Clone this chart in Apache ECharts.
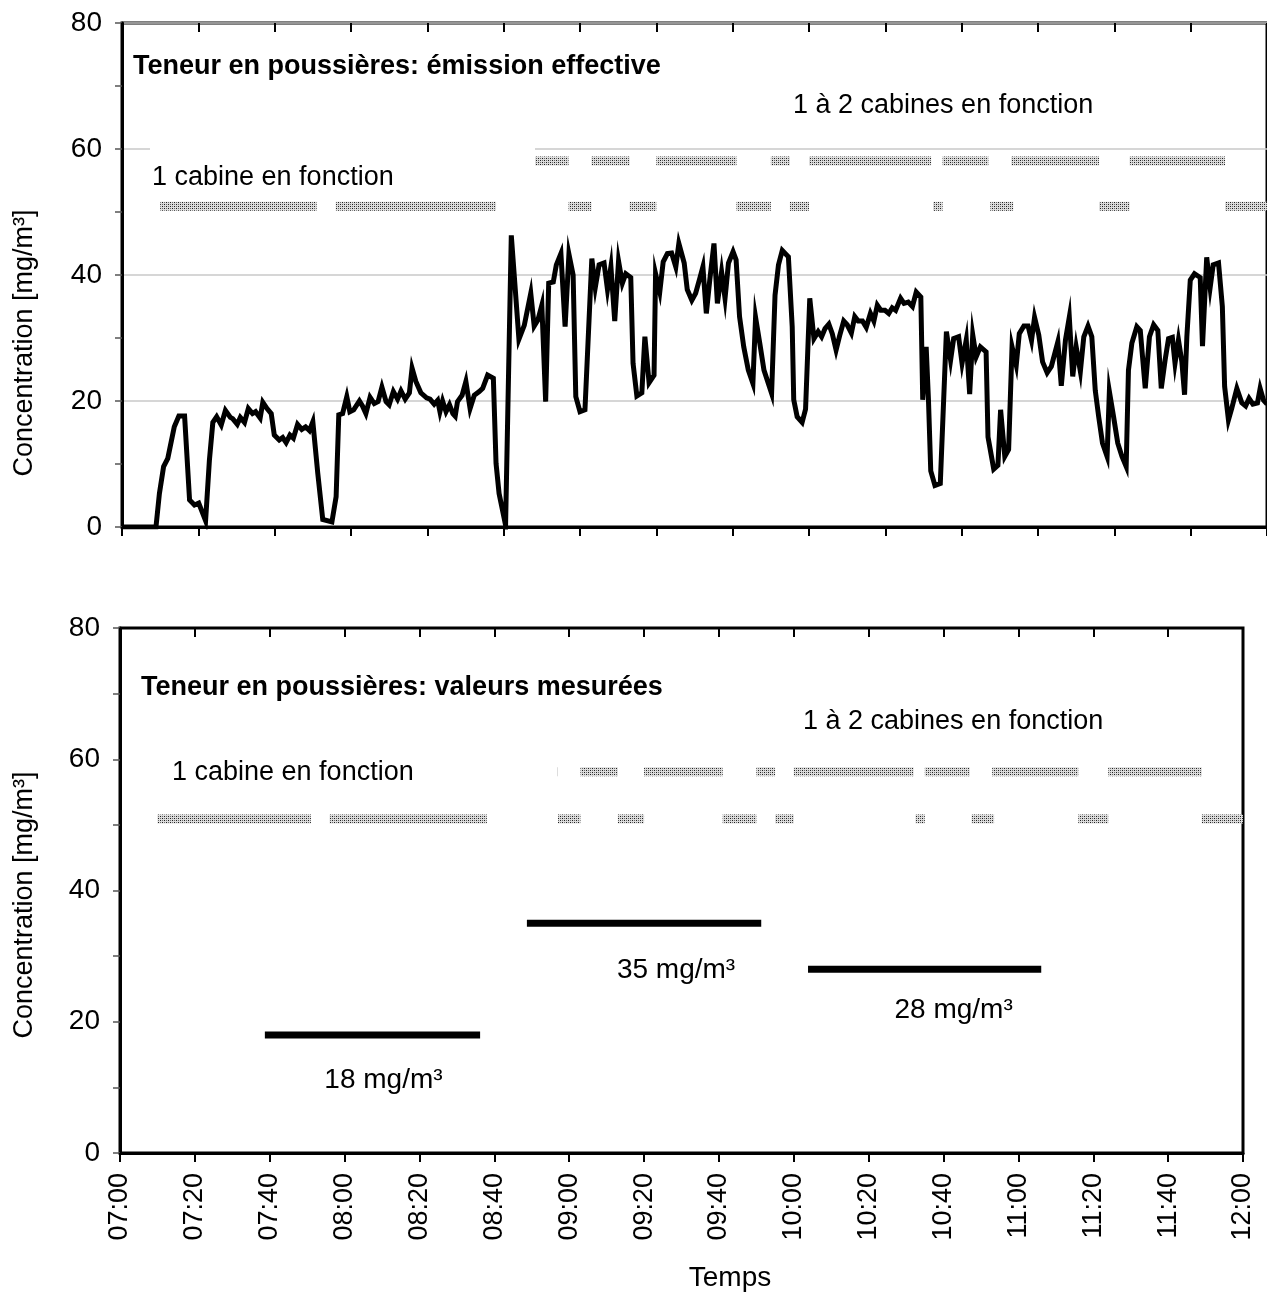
<!DOCTYPE html>
<html>
<head>
<meta charset="utf-8">
<title>Teneur en poussières</title>
<script src="https://cdn.jsdelivr.net/npm/echarts@6/dist/echarts.min.js"></script>
<style>
  html, body { margin: 0; padding: 0; background: #fff; }
  #chart { width: 1267px; height: 1296px; }
</style>
</head>
<body>
<div id="chart"></div>
<script>
// Minutes after 07:00 and dust concentration (mg/m³) – effective emission
const emissionMinutes = [
  0, 8.9, 9.8, 10.9, 12.0, 13.7, 14.9, 16.4, 17.7, 19.0, 20.1, 21.9, 22.9, 23.8, 24.8, 26.0,
  27.1, 28.4, 29.0, 30.2, 31.0, 32.1, 33.1, 34.2, 35.0, 36.2, 36.9, 38.0, 39.1, 39.9, 41.2, 42.1,
  43.0, 44.0, 44.9, 46.0, 47.1, 48.1, 49.1, 50.0, 51.3, 52.6, 55.0, 56.1, 56.8, 57.8, 58.9, 59.7,
  60.7, 62.2, 63.0, 63.9, 65.0, 66.1, 67.1, 68.1, 69.2, 70.0, 71.1, 72.2, 73.1, 74.2, 75.3, 76.0,
  77.0, 78.3, 79.8, 80.7, 81.8, 82.7, 83.3, 84.0, 84.9, 85.8, 86.7, 87.3, 87.9, 89.1, 90.1, 91.2,
  92.3, 93.6, 94.5, 95.8, 97.3, 98.0, 98.8, 100.5, 102.0, 104.0, 105.4, 107.1, 108.0, 109.0, 110.0, 111.0,
  111.8, 113.0, 113.8, 115.0, 116.1, 117.1, 118.2, 118.9, 120.0, 121.3, 123.1, 124.0, 125.0, 126.3, 127.2, 128.1,
  129.1, 130.1, 131.1, 132.0, 133.3, 133.9, 134.9, 136.2, 137.0, 138.1, 139.4, 139.8, 140.9, 141.8, 142.9, 144.0,
  145.1, 145.9, 147.3, 148.1, 149.3, 150.3, 151.4, 152.2, 153.1, 154.0, 155.1, 156.0, 157.1, 158.0, 158.9, 160.1,
  160.9, 161.8, 162.9, 164.1, 165.3, 166.0, 167.1, 168.2, 170.2, 171.1, 172.0, 173.0, 174.6, 175.6, 176.0, 176.9,
  178.2, 179.1, 180.2, 181.3, 182.4, 183.3, 184.2, 185.2, 186.1, 187.1, 188.0, 189.1, 190.0, 191.1, 192.0, 192.9,
  194.0, 195.0, 196.1, 197.0, 197.9, 198.8, 199.9, 200.9, 201.8, 202.7, 204.0, 204.9, 206.0, 207.1, 208.1, 209.3,
  209.8, 210.7, 211.3, 211.9, 213.0, 214.4, 216.0, 217.1, 217.9, 219.2, 220.1, 221.2, 222.1, 222.9, 223.8, 224.9,
  226.4, 226.9, 228.4, 229.5, 230.2, 231.3, 232.3, 233.2, 234.3, 235.1, 236.3, 237.4, 238.3, 239.1, 240.2, 241.2,
  242.4, 243.5, 245.2, 246.1, 247.2, 248.2, 249.1, 250.0, 251.1, 252.0, 253.1, 254.1, 255.0, 255.9, 256.9, 258.1,
  258.7, 259.8, 260.9, 262.0, 263.1, 263.7, 264.6, 265.9, 266.8, 268.1, 269.2, 270.3, 271.4, 272.3, 273.3, 274.2,
  275.2, 275.9, 276.8, 277.7, 278.4, 279.0, 279.9, 281.0, 282.5, 283.1, 284.2, 285.1, 285.9, 287.3, 288.3, 288.9,
  289.9, 290.8, 292.1, 293.4, 294.4, 295.3, 296.3, 297.5, 298.2, 299.1, 300
];
const emissionValues = [
  0, 0, 5.3, 9.6, 10.9, 15.9, 17.6, 17.6, 4.3, 3.5, 3.8, 1.0, 10.6, 16.6, 17.5, 16.2,
  18.5, 17.4, 17.2, 16.3, 17.4, 16.6, 18.8, 18.0, 18.3, 17.3, 19.8, 18.8, 18.0, 14.6, 13.8, 14.2,
  13.4, 14.6, 14.1, 16.3, 15.5, 15.9, 15.3, 16.7, 8.5, 1.2, 0.8, 4.8, 17.8, 18.0, 20.7, 18.3,
  18.6, 20.0, 19.2, 18.0, 20.6, 19.6, 19.9, 22.2, 19.9, 19.4, 21.5, 20.3, 21.6, 20.3, 21.3, 25.2,
  23.1, 21.3, 20.5, 20.3, 19.5, 20.1, 18.3, 20.0, 18.3, 19.4, 18.0, 17.6, 19.9, 20.9, 23.1, 18.8,
  20.9, 21.5, 22.0, 24.1, 23.6, 10.1, 5.3, 0.3, 46.3, 29.8, 32.0, 37.1, 31.9, 32.9, 35.2, 19.9,
  38.7, 38.9, 41.6, 43.4, 31.8, 43.3, 40.0, 20.7, 18.3, 18.6, 42.6, 38.0, 41.6, 41.9, 37.7, 41.3,
  32.7, 42.2, 38.7, 40.2, 39.6, 26.0, 20.8, 21.3, 30.2, 22.9, 24.1, 40.2, 37.3, 42.1, 43.4, 43.5,
  41.3, 45.0, 41.9, 37.7, 36.0, 37.1, 39.5, 41.3, 33.9, 39.2, 45.0, 35.5, 40.5, 36.3, 41.9, 43.7,
  42.4, 33.4, 28.6, 24.9, 22.8, 33.3, 29.2, 24.9, 21.2, 36.8, 41.6, 43.9, 42.9, 31.8, 20.2, 17.5,
  16.6, 18.7, 36.3, 29.9, 31.0, 30.2, 31.5, 32.2, 30.7, 28.1, 30.3, 32.7, 32.1, 30.8, 33.4, 32.7,
  32.7, 31.7, 33.9, 32.7, 35.2, 34.4, 34.4, 33.9, 34.8, 34.4, 36.3, 35.5, 35.7, 35.0, 37.3, 36.5,
  20.2, 28.6, 20.2, 8.9, 6.6, 6.9, 31.0, 26.5, 29.9, 30.2, 26.0, 29.7, 21.1, 30.5, 27.0, 28.6,
  27.8, 14.3, 9.2, 9.8, 18.6, 11.2, 12.3, 28.6, 25.7, 30.7, 31.9, 31.9, 29.6, 33.3, 30.5, 26.2,
  24.5, 25.5, 29.4, 22.4, 29.7, 33.3, 23.9, 28.6, 24.7, 30.2, 31.9, 30.2, 21.7, 17.5, 13.3, 11.2,
  21.5, 17.5, 13.3, 11.2, 9.6, 24.9, 29.2, 31.8, 31.2, 22.0, 30.2, 32.1, 31.2, 22.0, 26.5, 29.9,
  30.1, 26.0, 29.7, 26.2, 21.0, 30.2, 39.2, 40.2, 39.6, 28.7, 42.8, 38.0, 41.6, 41.9, 35.0, 22.3,
  17.0, 18.9, 22.0, 19.7, 19.2, 20.4, 19.5, 19.7, 22.0, 20.1, 19.5
];

// Operating periods of the booths, [start, end] in minutes after 07:00
const upperBandPeriods = [
  [108, 117], [123, 133], [140, 161], [170, 175], [180, 212], [215, 227], [233, 256], [264, 289]
];
const lowerBandPeriods = [
  [10, 51], [56, 98], [117, 123], [133, 140], [161, 170], [175, 180], [212.5, 215],
  [227.5, 233.5], [256, 264], [289, 300]
];
const bandLevels = [58.1, 50.9];

// Measured (sampled) averages: sampling windows and results in mg/m³
const measuredStart = [38.7, 108.7, 183.8];
const measuredEnd = [96.2, 171.3, 246.1];
const measuredValues = [18, 35, 28];

const FONT = '"Liberation Sans", Arial, Helvetica, sans-serif';

function clock(m) {
  const h = 7 + Math.floor(m / 60);
  const mm = Math.round(m % 60);
  return String(h).padStart(2, '0') + ':' + String(mm).padStart(2, '0');
}

// stippled fill for the operating-period bands
function makeStipple() {
  const c = document.createElement('canvas');
  c.width = 4; c.height = 4;
  const g = c.getContext('2d');
  g.fillStyle = '#dcdcdc';
  g.fillRect(0, 0, 4, 4);
  g.fillStyle = '#1e1e1e';
  g.fillRect(0, 0, 1, 1);
  g.fillRect(2, 2, 1, 1);
  g.fillStyle = '#6a6a6a';
  g.fillRect(2, 0, 1, 1);
  g.fillRect(0, 2, 1, 1);
  return { image: c, repeat: 'repeat' };
}
const stipple = makeStipple();

const bandData = [];
upperBandPeriods.forEach(p => bandData.push([p[0], p[1], bandLevels[0]]));
lowerBandPeriods.forEach(p => bandData.push([p[0], p[1], bandLevels[1]]));

function renderBand(params, api) {
  const s = api.coord([api.value(0), api.value(2)]);
  const e = api.coord([api.value(1), api.value(2)]);
  return {
    type: 'rect',
    shape: { x: s[0], y: s[1] - 4.5, width: e[0] - s[0], height: 9 },
    style: { fill: stipple }
  };
}

const labelShift = [[11, 45], [32, 47], [29, 41]];
const measuredData = measuredValues.map((v, i) => [measuredStart[i], measuredEnd[i], v, i]);

function renderMeasured(params, api) {
  const v = api.value(2);
  const i = api.value(3);
  const s = api.coord([api.value(0), v]);
  const e = api.coord([api.value(1), v]);
  return {
    type: 'group',
    children: [
      {
        type: 'line',
        shape: { x1: s[0], y1: s[1], x2: e[0], y2: e[1] },
        style: { stroke: '#000', lineWidth: 7, lineCap: 'butt' }
      },
      {
        type: 'text',
        style: {
          text: v + ' mg/m³',
          x: (s[0] + e[0]) / 2 + labelShift[i][0],
          y: s[1] + labelShift[i][1],
          align: 'center',
          verticalAlign: 'middle',
          fontSize: 28,
          fontFamily: FONT,
          fill: '#000'
        }
      }
    ]
  };
}

function xAxes(grid, withLabels) {
  const base = {
    type: 'value', gridIndex: grid, min: 0, max: 300, interval: 20,
    splitLine: { show: false }
  };
  return [
    Object.assign({}, base, {
      axisLine: { show: true, lineStyle: { color: '#000', width: 3 } },
      axisTick: { show: true, length: 9, lineStyle: { color: '#000', width: 2 } },
      axisLabel: withLabels ? {
        show: true, rotate: 90, margin: 20, fontSize: 27, fontFamily: FONT, color: '#000',
        formatter: clock
      } : { show: false }
    }),
    Object.assign({}, base, {
      axisLine: { show: false },
      axisTick: { show: true, inside: true, length: 9, lineStyle: { color: '#000', width: 2 } },
      axisLabel: { show: false }
    })
  ];
}

function yAxis(grid, gridLines) {
  return {
    type: 'value', gridIndex: grid, min: 0, max: 80, interval: 20,
    axisLine: { show: true, lineStyle: { color: '#000', width: 3 } },
    axisTick: { show: true, length: 7, lineStyle: { color: '#555', width: 1.5 } },
    minorTick: { show: true, splitNumber: 2, length: 7, lineStyle: { color: '#555', width: 1.5 } },
    axisLabel: { fontSize: 28, fontFamily: FONT, color: '#000', margin: 20 },
    splitLine: { show: gridLines, lineStyle: { color: '#c8c8c8', width: 1.5 } }
  };
}

function textEl(text, x, y, opts) {
  return {
    type: 'text', z: 101,
    style: Object.assign({
      text: text, x: x, y: y, fill: '#000',
      font: '27px ' + FONT, textAlign: 'left', textVerticalAlign: 'middle'
    }, opts || {})
  };
}

const chart = echarts.init(document.getElementById('chart'), null, { renderer: 'canvas' });

chart.setOption({
  animation: false,
  backgroundColor: '#fff',
  grid: [
    { left: 122, top: 23, width: 1147, height: 504, show: true, borderColor: '#000', borderWidth: 3 },
    { left: 120, top: 628, width: 1123, height: 525, show: true, borderColor: '#000', borderWidth: 3 }
  ],
  xAxis: [].concat(xAxes(0, false), xAxes(1, true)),
  yAxis: [yAxis(0, true), yAxis(1, false)],
  series: [
    {
      name: 'Émission effective',
      type: 'line', xAxisIndex: 0, yAxisIndex: 0,
      data: emissionMinutes.map((m, i) => [m, emissionValues[i]]),
      showSymbol: false, symbol: 'none',
      lineStyle: { color: '#000', width: 5, join: 'miter' },
      z: 5
    },
    {
      name: 'Cabines (émission)',
      type: 'custom', xAxisIndex: 0, yAxisIndex: 0,
      renderItem: renderBand, data: bandData, z: 3
    },
    {
      name: 'Cabines (mesure)',
      type: 'custom', xAxisIndex: 2, yAxisIndex: 1,
      renderItem: renderBand, data: bandData, z: 3
    },
    {
      name: 'Valeurs mesurées',
      type: 'custom', xAxisIndex: 2, yAxisIndex: 1,
      renderItem: renderMeasured, data: measuredData, z: 5
    }
  ],
  graphic: [
    // white panels behind the "1 cabine" captions
    { type: 'rect', z: 100, shape: { x: 150, y: 138, width: 385, height: 58 }, style: { fill: '#fff' } },
    { type: 'rect', z: 100, shape: { x: 170, y: 757, width: 387, height: 30 }, style: { fill: '#fff' } },

    textEl('Teneur en poussières: émission effective', 133, 67, { font: 'bold 27px ' + FONT }),
    textEl('1 à 2 cabines en fonction', 793, 106),
    textEl('1 cabine en fonction', 152, 178),

    textEl('Teneur en poussières: valeurs mesurées', 141, 688, { font: 'bold 27px ' + FONT }),
    textEl('1 à 2 cabines en fonction', 803, 722),
    textEl('1 cabine en fonction', 172, 773),

    {
      type: 'text', z: 101, x: 25, y: 343, rotation: Math.PI / 2,
      style: { text: 'Concentration [mg/m³]', x: 0, y: 0, font: '27px ' + FONT, fill: '#000',
               textAlign: 'center', textVerticalAlign: 'middle' }
    },
    {
      type: 'text', z: 101, x: 25, y: 905, rotation: Math.PI / 2,
      style: { text: 'Concentration [mg/m³]', x: 0, y: 0, font: '27px ' + FONT, fill: '#000',
               textAlign: 'center', textVerticalAlign: 'middle' }
    },
    textEl('Temps', 730, 1278, { textAlign: 'center', font: '28px ' + FONT })
  ]
});
</script>
</body>
</html>
